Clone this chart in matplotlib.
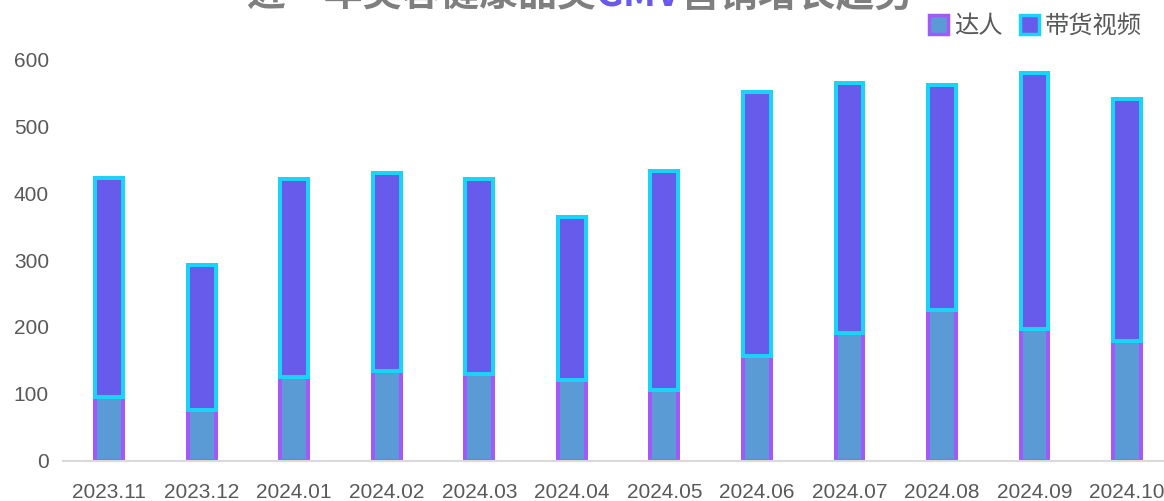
import matplotlib
matplotlib.use("Agg")
import matplotlib.pyplot as plt
import numpy as np
from matplotlib.patches import Patch

plt.rcParams['font.family'] = ['Noto Sans CJK SC', 'DejaVu Sans']

categories = ["2023.11", "2023.12", "2024.01", "2024.02", "2024.03", "2024.04",
              "2024.05", "2024.06", "2024.07", "2024.08", "2024.09", "2024.10"]
daren = [95, 76, 125, 134, 130, 121, 106, 157, 191, 225, 197, 179]
video = [327, 216, 296, 296, 291, 243, 327, 394, 373, 336, 383, 361]
yticks = [0, 100, 200, 300, 400, 500, 600]
title_parts = [("近一年美容健康品类", "#7F7F7F"), ("GMV", "#6A5AE8"), ("营销增长趋势", "#7F7F7F")]

fig = plt.figure(figsize=(11.64, 5.01), dpi=100)
ax = fig.add_axes([0.054, 0.080, 0.946, 0.802])

x = np.arange(len(categories))
w = 0.30
lw = 2.9
ax.bar(x, daren, width=w, color="#5B9BD5", edgecolor="#A259F7", linewidth=lw, label="达人")
ax.bar(x, video, width=w, bottom=daren, color="#675BEC", edgecolor="#1AD3F7", linewidth=lw, label="带货视频")

ax.set_xlim(-0.5, 11.4)
ax.set_ylim(0, 600)
ax.set_yticks(yticks)
ax.set_xticks(x)
ax.set_xticklabels(categories)
for s in ["top", "right", "left"]:
    ax.spines[s].set_visible(False)
ax.spines["bottom"].set_color("#D9D9D9")
ax.spines["bottom"].set_linewidth(1.5)
ax.tick_params(axis="both", length=0, labelsize=15, colors="#595959")
for lab in ax.get_xticklabels() + ax.get_yticklabels():
    lab.set_family(["Liberation Sans", "Noto Sans CJK SC"])
ax.tick_params(axis="x", pad=16)
ax.tick_params(axis="y", pad=10)

handles = [Patch(facecolor="#5B9BD5", edgecolor="#A259F7", linewidth=2.5, label="达人"),
           Patch(facecolor="#675BEC", edgecolor="#1AD3F7", linewidth=2.5, label="带货视频")]
leg = fig.legend(handles=handles, loc="center right", bbox_to_anchor=(1.0, 0.948), ncol=2,
                 frameon=False, fontsize=17.5, handlelength=0.8, handleheight=0.8,
                 handletextpad=0.25, columnspacing=0.7)
for t in leg.get_texts():
    t.set_color("#595959")

# title in coloured parts
fig.canvas.draw()
r = fig.canvas.get_renderer()
texts = []
for s, c in title_parts:
    t = fig.text(0, 0.988, s, color=c, fontsize=28, fontweight="bold", va="baseline", ha="left")
    texts.append(t)
widths = [t.get_window_extent(r).width for t in texts]
total = sum(widths)
start = 0.4985 * fig.bbox.width - total / 2
for t, wd in zip(texts, widths):
    t.set_x(start / fig.bbox.width)
    start += wd

fig.savefig("out.png", dpi=100)
